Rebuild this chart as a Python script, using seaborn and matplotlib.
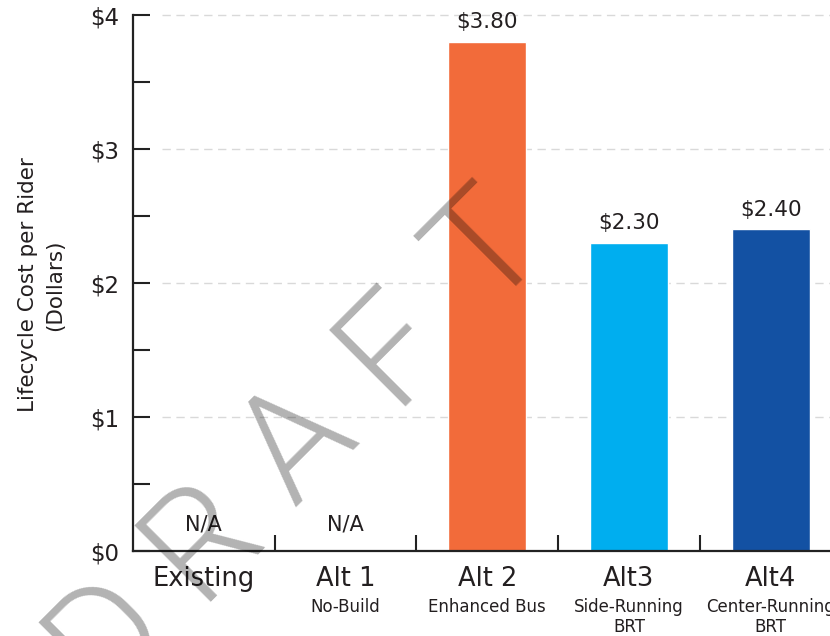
import numpy as np
import matplotlib
matplotlib.use("Agg")
import matplotlib.pyplot as plt
import matplotlib.transforms as mtransforms
import seaborn as sns

# ---- data ----
categories = ["Existing", "Alt 1", "Alt 2", "Alt3", "Alt4"]
sublabels = ["", "No-Build", "Enhanced Bus", "Side-Running\nBRT", "Center-Running\nBRT"]
values = [np.nan, 0.01, 3.80, 2.30, 2.40]
value_labels = ["N/A", "N/A", "$3.80", "$2.30", "$2.40"]
bar_colors = ["#FFFFFF", "#A8DDB5", "#F26B3A", "#00AEEF", "#1351A3"]
ytick_values = [0, 1, 2, 3, 4]
ytick_labels = ["$0", "$1", "$2", "$3", "$4"]
ylabel_text = "Lifecycle Cost per Rider\n(Dollars)"
watermark = "DRAFT"

sns.set_style("white")
plt.rcParams["font.family"] = ["DejaVu Sans"]
TXT = "#231F20"

fig = plt.figure(figsize=(8.30, 6.36), dpi=100)
ax = fig.add_axes([0.1602, 0.1336, 0.8536, 0.8428])

sns.barplot(x=categories, y=values, hue=categories, palette=bar_colors,
            width=0.55, legend=False, ax=ax, saturation=1, zorder=2)

ax.set_xlim(-0.5, 4.5)
ax.set_ylim(0, 4)

# gridlines (start a bit right of the spine)
for yv in ytick_values[1:]:
    ax.plot([-0.296, 4.5], [yv, yv], color="#D9D9D9", lw=1.0,
            dashes=(6, 4), zorder=1, clip_on=False)

# spines
for s in ["top", "right"]:
    ax.spines[s].set_visible(False)
for s in ["left", "bottom"]:
    ax.spines[s].set_color("#222222")
    ax.spines[s].set_linewidth(1.6)
    ax.spines[s].set_zorder(3)

# y ticks
ax.set_yticks(ytick_values)
ax.set_yticklabels([t.replace("$", r"\$") for t in ytick_labels])
ax.set_yticks([0.5, 1.5, 2.5, 3.5], minor=True)
ax.tick_params(axis="y", which="both", direction="in", length=12.2, width=1.5,
               color="#222222", pad=10, labelsize=16.5, labelcolor=TXT, left=True)

# x ticks
ax.set_xticks(range(len(categories)))
ax.set_xticklabels(categories)
ax.set_xticks([0.5, 1.5, 2.5, 3.5], minor=True)
ax.tick_params(axis="x", which="major", length=0, pad=11, labelsize=18.5, labelcolor=TXT)
ax.tick_params(axis="x", which="minor", direction="in", length=11.5, width=1.5,
               color="#222222", bottom=True)
ax.set_xlabel("")
ax.set_ylabel("")

# sublabels
trans = mtransforms.blended_transform_factory(ax.transData, ax.transAxes)
for i, sl in enumerate(sublabels):
    if sl:
        ax.text(i, -0.088, sl, transform=trans, ha="center", va="top",
                fontsize=12, color=TXT, linespacing=1.15, clip_on=False)

# value labels
for i, (v, lab) in enumerate(zip(values, value_labels)):
    if lab == "N/A":
        ax.text(i, 0.15, lab, ha="center", va="baseline", fontsize=15, color=TXT)
    else:
        ax.annotate(lab.replace("$", r"\$"), (i, v), xytext=(0, 7),
                    textcoords="offset points", ha="center", va="bottom",
                    fontsize=15.5, color=TXT)

# y label
fig.text(42 / 830, 0.552, ylabel_text, rotation=90, ha="center", va="center",
         fontsize=15.5, color=TXT, linespacing=1.45, multialignment="center")

# watermark: letters spaced along a 45-degree line
W, H = 830.0, 636.0
cx, cy, step = 287.0, 432.0, 95.5
for k, ch in enumerate(watermark):
    px = cx + (k - 2) * step
    py = cy - (k - 2) * step
    fig.text(px / W, 1 - py / H, ch, rotation=45, fontsize=110, color="black",
             alpha=0.3, ha="center", va="center_baseline", rotation_mode="anchor",
             zorder=10, family="Roboto", fontweight=300)

fig.savefig("out.png", dpi=100)
